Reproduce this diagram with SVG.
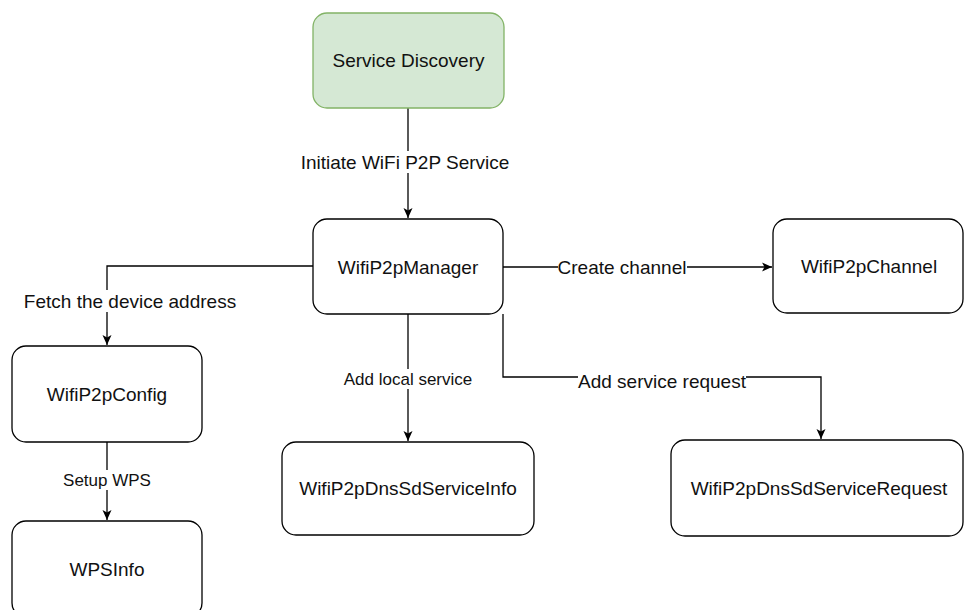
<svg xmlns="http://www.w3.org/2000/svg" width="964" height="610" viewBox="0 0 964 610">
<defs>
<marker id="arr" viewBox="0 0 10 10" refX="10" refY="5" markerWidth="10" markerHeight="10" markerUnits="userSpaceOnUse" orient="auto">
<path d="M0,0.5 L10,5 L0,9.5 L2.5,5 Z" fill="#000"/>
</marker>
<style>
.box{fill:#fff;stroke:#000;stroke-width:1.3}
.green{fill:#d5e8d4;stroke:#82b366;stroke-width:1.3}
.t{font-family:"Liberation Sans",Arial,sans-serif;font-size:19px;fill:#111;text-anchor:middle}
.s{font-family:"Liberation Sans",Arial,sans-serif;font-size:17px;fill:#111;text-anchor:middle}
.e{fill:none;stroke:#000;stroke-width:1.3;marker-end:url(#arr)}
.bg{fill:#fff}
</style>
</defs>
<rect width="964" height="610" fill="#fff"/>
<g id="connectors">
<path class="e" d="M408,108 V218"/>
<path class="e" d="M313,266 H107 V345"/>
<path class="e" d="M107,442 V520"/>
<path class="e" d="M408,314 V441"/>
<path class="e" d="M503,267 H772"/>
<path class="e" d="M503,314 V377 H821 V439"/>
<rect class="bg" x="301" y="151" width="209" height="22"/>
<text class="t" x="405" y="168.5">Initiate WiFi P2P Service</text>
<rect class="bg" x="24" y="290" width="212" height="22"/>
<text class="t" x="130" y="307.5">Fetch the device address</text>
<rect class="bg" x="63" y="470" width="89" height="20"/>
<text class="s" x="107" y="486">Setup WPS</text>
<rect class="bg" x="342" y="369" width="132" height="20"/>
<text class="s" x="408" y="385">Add local service</text>
<rect class="bg" x="558" y="257" width="129" height="20"/>
<text class="t" x="622" y="273.5">Create channel</text>
<rect class="bg" x="578" y="371" width="168" height="20"/>
<text class="t" x="662" y="387.5">Add service request</text>
</g>
<g id="service-discovery">
<rect class="green" x="313" y="13" width="191" height="95" rx="14"/>
<text class="t" x="408.5" y="67">Service Discovery</text>
</g>
<g id="manager">
<rect class="box" x="313" y="219" width="190" height="95" rx="14"/>
<text class="t" x="408" y="273.5">WifiP2pManager</text>
</g>
<g id="channel">
<rect class="box" x="773" y="219" width="190" height="94" rx="14"/>
<text class="t" x="869" y="273">WifiP2pChannel</text>
</g>
<g id="config">
<rect class="box" x="12" y="346" width="190" height="96" rx="14"/>
<text class="t" x="107" y="401">WifiP2pConfig</text>
</g>
<g id="wpsinfo">
<rect class="box" x="12" y="521" width="190" height="96" rx="14"/>
<text class="t" x="107" y="576">WPSInfo</text>
</g>
<g id="serviceinfo">
<rect class="box" x="282" y="442" width="252" height="93" rx="14"/>
<text class="t" x="408" y="495">WifiP2pDnsSdServiceInfo</text>
</g>
<g id="servicerequest">
<rect class="box" x="671" y="440" width="292" height="96" rx="14"/>
<text class="t" x="819" y="495">WifiP2pDnsSdServiceRequest</text>
</g>
</svg>
